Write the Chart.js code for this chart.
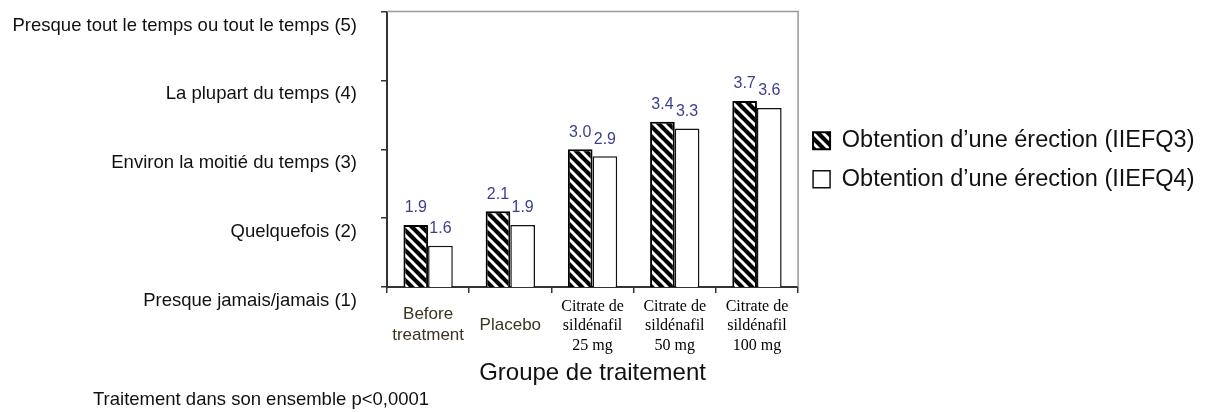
<!DOCTYPE html>
<html>
<head>
<meta charset="utf-8">
<script src="https://cdn.jsdelivr.net/npm/chart.js@4/dist/chart.umd.min.js"></script>
<style>
  html, body { margin: 0; padding: 0; background: #fff; }
</style>
</head>
<body>
<canvas id="chart" width="1211" height="412"></canvas>
<script>
// data
const categories = [
    ['Before', 'treatment'],
    ['Placebo'],
    ['Citrate de', 'sildénafil', '25 mg'],
    ['Citrate de', 'sildénafil', '50 mg'],
    ['Citrate de', 'sildénafil', '100 mg']
];
const seriesNames = ['Obtention d\u2019une érection (IIEFQ3)', 'Obtention d\u2019une érection (IIEFQ4)'];
const iiefq3 = [1.9, 2.1, 3.0, 3.4, 3.7];
const iiefq4 = [1.6, 1.9, 2.9, 3.3, 3.6];
const scoreLabels = [
    'Presque jamais/jamais (1)',
    'Quelquefois (2)',
    'Environ la moitié du temps (3)',
    'La plupart du temps (4)',
    'Presque tout le temps ou tout le temps (5)'
];
const axisTitle = 'Groupe de traitement';
const footNote = 'Traitement dans son ensemble p<0,0001';

const SANS = '"Liberation Sans", Arial, sans-serif';
const SERIF = '"Liberation Serif", "Times New Roman", serif';

// black bars with white "\" stripes
function hatch() {
    const s = 10;
    const c = document.createElement('canvas');
    c.width = s;
    c.height = s;
    const g = c.getContext('2d');
    g.fillStyle = '#000';
    g.fillRect(0, 0, s, s);
    g.strokeStyle = '#fff';
    g.lineWidth = 3;
    for (let k = -1; k <= 1; k++) {
        g.beginPath();
        g.moveTo(k * s - 1, -1);
        g.lineTo(k * s + s + 1, s + 1);
        g.stroke();
    }
    return g.createPattern(c, 'repeat');
}

const valueLabels = {
    id: 'valueLabels',
    afterDatasetsDraw(chart) {
        const ctx = chart.ctx;
        ctx.save();
        ctx.font = '16px ' + SANS;
        ctx.fillStyle = '#3b3f8f';
        ctx.textAlign = 'center';
        ctx.textBaseline = 'middle';
        chart.data.datasets.forEach((ds, i) => {
            chart.getDatasetMeta(i).data.forEach((bar, j) => {
                ctx.fillText(ds.data[j].toFixed(1), bar.x, bar.y - 17);
            });
        });
        ctx.restore();
    }
};

const frameAndNote = {
    id: 'frameAndNote',
    afterDraw(chart) {
        const ctx = chart.ctx;
        const a = chart.chartArea;
        ctx.save();
        ctx.strokeStyle = '#999';
        ctx.lineWidth = 1.5;
        ctx.beginPath();
        ctx.moveTo(a.left, a.top);
        ctx.lineTo(a.right, a.top);
        ctx.lineTo(a.right, a.bottom);
        ctx.stroke();
        ctx.font = '18.5px ' + SANS;
        ctx.fillStyle = '#111';
        ctx.textBaseline = 'middle';
        ctx.fillText(footNote, 93, 400);
        ctx.restore();
    }
};

new Chart(document.getElementById('chart').getContext('2d'), {
    type: 'bar',
    data: {
        labels: categories,
        datasets: [
            {
                label: seriesNames[0],
                data: iiefq3,
                backgroundColor: hatch(),
                borderColor: '#000',
                borderWidth: 2
            },
            {
                label: seriesNames[1],
                data: iiefq4,
                backgroundColor: '#fff',
                borderColor: '#111',
                borderWidth: 1.5
            }
        ]
    },
    plugins: [valueLabels, frameAndNote],
    options: {
        responsive: false,
        animation: false,
        datasets: {
            bar: { categoryPercentage: 0.6, barPercentage: 1.0 }
        },
        layout: {
            padding: { left: 12, right: 6.5, top: 11.5, bottom: 24.6 }
        },
        plugins: {
            tooltip: { enabled: false },
            legend: {
                position: 'right',
                align: 'start',
                maxWidth: 700,
                title: {
                    display: true,
                    text: '',
                    font: { size: 10, lineHeight: 1 },
                    padding: { top: 92.5, bottom: 0 }
                },
                labels: {
                    boxWidth: 17,
                    boxHeight: 17,
                    padding: 15,
                    color: '#111',
                    font: { family: SANS, size: 23.5 }
                }
            }
        },
        scales: {
            x: {
                afterFit: scale => { scale.height = 100.4; },
                grid: {
                    drawOnChartArea: false,
                    tickLength: 6,
                    color: '#333',
                    lineWidth: 1.5
                },
                border: { color: '#333', width: 2 },
                ticks: {
                    padding: 14,
                    crossAlign: 'center',
                    maxRotation: 0,
                    autoSkip: false,
                    color: ctx => ctx.index < 2 ? '#3d3322' : '#000',
                    font: ctx => ctx.index < 2
                        ? { family: SANS, size: 17, lineHeight: 1.25 }
                        : { family: SERIF, size: 16, lineHeight: 1.2 }
                },
                title: {
                    display: true,
                    text: axisTitle,
                    color: '#111',
                    font: { family: SANS, size: 24, lineHeight: 1.2 },
                    padding: { top: 0, bottom: 0 }
                }
            },
            y: {
                min: 1,
                max: 5,
                afterFit: scale => {
                    scale.width = 375;
                    scale.paddingTop = 0;
                    scale.paddingBottom = 0;
                },
                grid: {
                    drawOnChartArea: false,
                    tickLength: 6,
                    color: '#333',
                    lineWidth: 1.5
                },
                border: { color: '#333', width: 2 },
                ticks: {
                    stepSize: 1,
                    padding: 24,
                    labelOffset: 14,
                    color: '#111',
                    font: { family: SANS, size: 18.5 },
                    callback: v => scoreLabels[v - 1]
                }
            }
        }
    }
});
</script>
</body>
</html>
